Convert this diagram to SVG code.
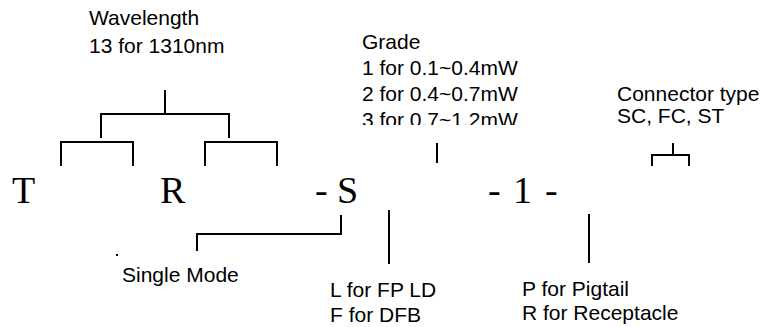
<svg xmlns="http://www.w3.org/2000/svg" width="762" height="327" viewBox="0 0 762 327">
<style>
.lbl{font-family:"Liberation Sans",Arial,sans-serif;font-size:21px;fill:#000}
.big{font-family:"Liberation Serif","Times New Roman",serif;font-size:38px;fill:#000}
.ln{fill:none;stroke:#000;stroke-width:2;stroke-linecap:butt;stroke-linejoin:miter}
</style>
<defs>
<clipPath id="gradeClip"><rect x="300" y="0" width="300" height="125"/></clipPath>
</defs>
<rect width="762" height="327" fill="#fff"/>
<g id="code">
<text class="big" x="12" y="203">T</text>
<text class="big" x="160" y="203">R</text>
<text class="big"><tspan x="315" y="203">-</tspan><tspan x="337" y="203">S</tspan></text>
<text class="big"><tspan x="488" y="203">-</tspan><tspan x="513" y="203">1</tspan><tspan x="545" y="203">-</tspan></text>
</g>
<g id="wavelength">
<text class="lbl" x="89" y="25">Wavelength</text>
<text class="lbl" x="89" y="53">13 for 1310nm</text>
</g>
<g id="grade" clip-path="url(#gradeClip)">
<text class="lbl" x="362" y="49">Grade</text>
<text class="lbl" x="362" y="75">1 for 0.1~0.4mW</text>
<text class="lbl" x="362" y="101">2 for 0.4~0.7mW</text>
<text class="lbl" x="362" y="127">3 for 0.7~1.2mW</text>
</g>
<g id="connector-type">
<text class="lbl" x="617" y="101">Connector type</text>
<text class="lbl" x="617" y="123">SC, FC, ST</text>
</g>
<g id="single-mode">
<text class="lbl" x="122" y="282">Single Mode</text>
<rect x="116" y="254" width="2" height="2" fill="#000"/>
</g>
<g id="laser">
<text class="lbl" x="330" y="297">L for FP LD</text>
<text class="lbl" x="330" y="322">F for DFB</text>
</g>
<g id="pigtail">
<text class="lbl" x="522" y="296">P for Pigtail</text>
<text class="lbl" x="522" y="320">R for Receptacle</text>
</g>
<g id="connectors">
<path class="ln" d="M165 90V114M101 138V114H229V138M61 166V142H133V166M205 166V142H277V166"/>
<path class="ln" d="M437 143V163"/>
<path class="ln" d="M673 143V155M652 166V155H689V166"/>
<path class="ln" d="M341 215V234H197V251"/>
<path class="ln" d="M389 210V264"/>
<path class="ln" d="M589 214V263"/>
</g>
</svg>
